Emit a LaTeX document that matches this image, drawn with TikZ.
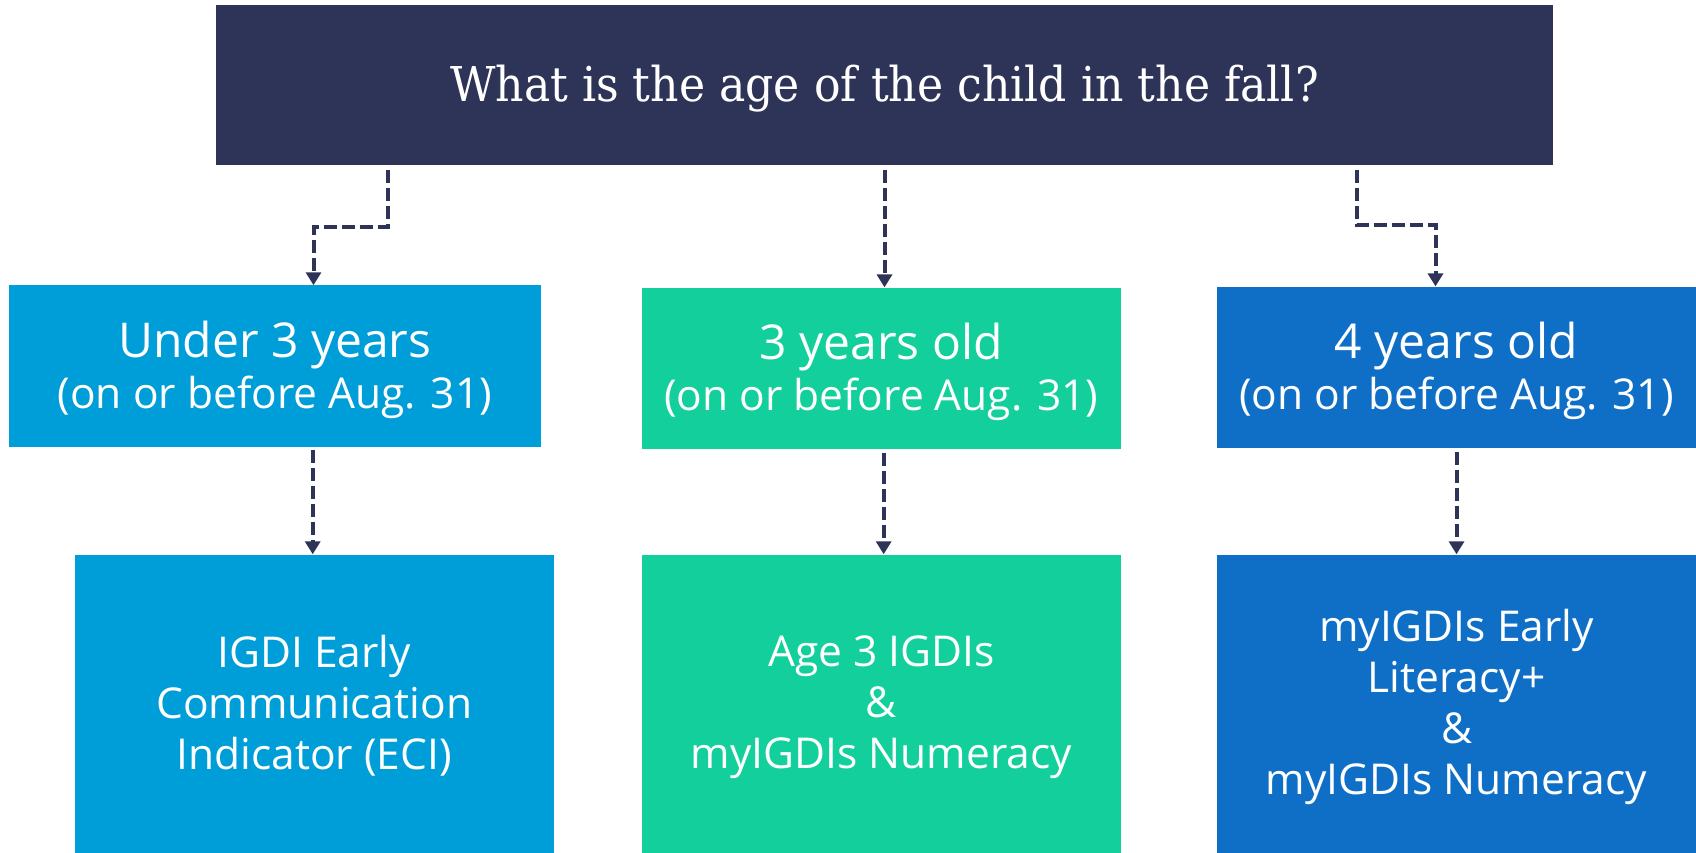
\documentclass[tikz,border=0pt]{standalone}
\usepackage{fontspec}
\setmainfont{Open Sans}
\newfontfamily\titlefont[FakeStretch=0.92]{DejaVu Serif}
\usetikzlibrary{arrows.meta}
\definecolor{navy}{RGB}{46,52,87}
\definecolor{lblue}{RGB}{0,158,216}
\definecolor{mint}{RGB}{18,207,155}
\definecolor{dblue}{RGB}{15,111,198}
\newcommand{\bigline}[1]{{\fontsize{48}{51}\selectfont #1}}
\tikzset{
  boxA/.style={fill=#1, text=white, inner sep=0pt, align=center, minimum height=161.3pt, text depth=2pt, font=\fontsize{42.5}{51}\selectfont},
  boxB/.style={fill=#1, text=white, inner sep=0pt, align=center, minimum height=298.5pt, minimum width=479pt, text depth=3pt, font=\fontsize{42.5}{51}\selectfont},
  conn/.style={draw=navy, line width=4pt, dash pattern=on 13pt off 5pt, -{Triangle[width=15pt,length=13pt]}},
}
\begin{document}
\begin{tikzpicture}[x=1pt,y=-1pt]
\useasboundingbox (0,0) rectangle (1696,853);
\node[fill=navy, text=white, inner sep=0pt, minimum width=1337pt, minimum height=160.5pt, text height=36pt, text depth=3pt, font=\titlefont\fontsize{48}{56}\selectfont] (top) at (884.5,85.25) {What is the age of the child in the fall?};
\node[boxA=lblue, minimum width=532.3pt] (a1) at (274.85,366.1) {\bigline{Under 3 years}\\(on or before Aug. 31)};
\node[boxA=mint, minimum width=478.5pt] (a2) at (881.25,368.25) {\bigline{3 years old}\\(on or before Aug. 31)};
\node[boxA=dblue, minimum width=479pt] (a3) at (1456.5,367.25) {\bigline{4 years old}\\(on or before Aug. 31)};
\node[boxB=lblue] (b1) at (314.2,703.75) {IGDI Early\\Communication\\Indicator (ECI)};
\node[boxB=mint] (b2) at (881.25,703.75) {Age 3 IGDIs\\\&\\myIGDIs Numeracy};
\node[boxB=dblue] (b3) at (1456.5,703.75) {myIGDIs Early\\Literacy+\\\&\\myIGDIs Numeracy};
\coordinate (s1) at (388,170);
\coordinate (m1) at (313.5,227);
\coordinate (s3) at (1356.5,170);
\coordinate (m3) at (1435.5,225);
\draw[conn] (s1) |- (m1) -- (m1 |- a1.north);
\draw[conn] ([yshift=-4.5pt]top.south) -- (top.south |- a2.north);
\draw[conn] (s3) |- (m3) -- (m3 |- a3.north);
\draw[conn] ([xshift=-1.5pt,yshift=-3.5pt]a1.south -| b1.north) -- ([xshift=-1.5pt]b1.north);
\draw[conn] ([xshift=2.4pt,yshift=-3.5pt]a2.south) -- ([xshift=2.4pt]b2.north);
\draw[conn] ([yshift=-3.5pt]a3.south) -- (b3.north);
\end{tikzpicture}
\end{document}
